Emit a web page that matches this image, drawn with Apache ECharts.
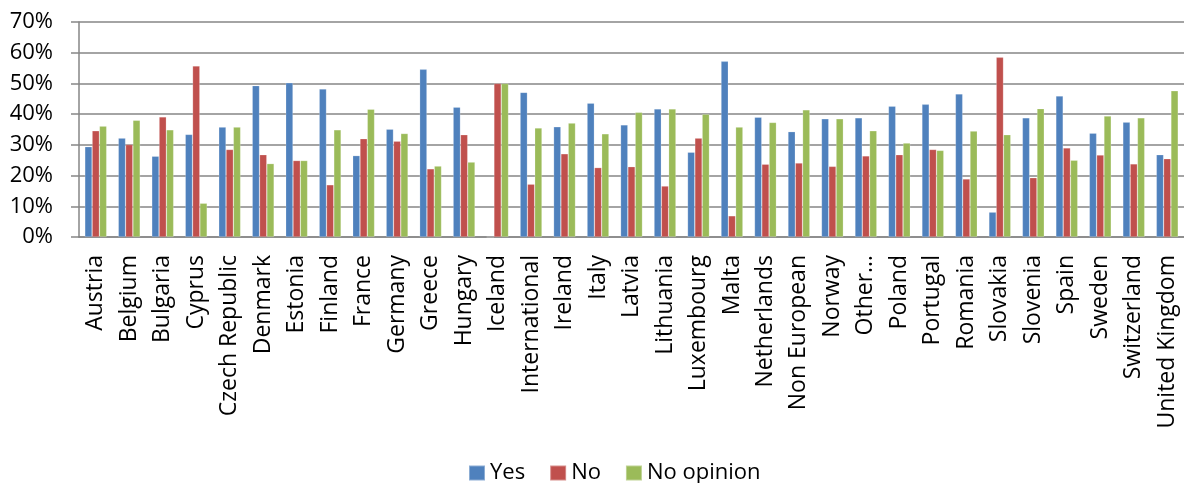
<!DOCTYPE html>
<html>
<head>
<meta charset="utf-8">
<script src="https://cdn.jsdelivr.net/npm/echarts@6/dist/echarts.min.js"></script>
<style>
  html, body { margin: 0; padding: 0; background: #fff; }
  #main { width: 1184px; height: 483px; }
</style>
</head>
<body>
<div id="main"></div>
<script>
// categories (countries)
var countries = ['Austria', 'Belgium', 'Bulgaria', 'Cyprus', 'Czech Republic', 'Denmark', 'Estonia',
  'Finland', 'France', 'Germany', 'Greece', 'Hungary', 'Iceland', 'International', 'Ireland', 'Italy',
  'Latvia', 'Lithuania', 'Luxembourg', 'Malta', 'Netherlands', 'Non European', 'Norway', 'Other…',
  'Poland', 'Portugal', 'Romania', 'Slovakia', 'Slovenia', 'Spain', 'Sweden', 'Switzerland', 'United Kingdom'];

// series values (%)
var yes = [29.4, 32.2, 26.3, 33.4, 35.8, 49.3, 50.2, 48.2, 26.5, 35.1, 54.6, 42.3, 0, 47.1, 35.9, 43.6,
  36.5, 41.7, 27.6, 57.2, 39.0, 34.3, 38.5, 38.8, 42.6, 43.2, 46.6, 8.1, 38.8, 45.9, 33.8, 37.4, 26.8];
var no = [34.6, 30.1, 39.1, 55.7, 28.5, 26.8, 24.9, 17.0, 32.0, 31.2, 22.2, 33.3, 50.0, 17.2, 27.1, 22.6,
  22.9, 16.6, 32.2, 6.9, 23.7, 24.1, 23.0, 26.4, 26.8, 28.5, 18.9, 58.5, 19.3, 29.0, 26.7, 23.8, 25.5];
var noOpinion = [36.1, 38.0, 34.9, 11.0, 35.8, 23.9, 24.9, 34.9, 41.6, 33.7, 23.1, 24.4, 50.0, 35.5, 37.1, 33.6,
  40.6, 41.7, 40.0, 35.8, 37.3, 41.4, 38.5, 34.6, 30.6, 28.2, 34.5, 33.3, 41.8, 25.0, 39.4, 38.8, 47.6];

// y axis ticks
var yMin = 0, yMax = 70, yStep = 10;

var font = 'Open Sans';
var chart = echarts.init(document.getElementById('main'));

function bar(name, data, color) {
  return {
    name: name,
    type: 'bar',
    data: data,
    barWidth: 7.3,
    barGap: '0%',
    itemStyle: { color: color, borderColor: 'rgba(255,255,255,0.35)', borderWidth: 0.6 }
  };
}

chart.setOption({
  animation: false,
  textStyle: { fontFamily: font },
  grid: { left: 79, top: 22, width: 1113, bottom: 246 },
  legend: {
    bottom: -6,
    left: 463,
    itemWidth: 16,
    itemHeight: 15,
    itemGap: 24,
    icon: 'rect',
    textStyle: { fontSize: 22, color: '#000', fontFamily: font },
    data: ['Yes', 'No', 'No opinion']
  },
  xAxis: {
    type: 'category',
    data: countries,
    axisLine: { lineStyle: { color: '#868686', width: 1.5 } },
    axisTick: { length: 6, lineStyle: { color: '#868686', width: 1.5 } },
    axisLabel: { rotate: 90, interval: 0, fontSize: 23, color: '#000', margin: 18 }
  },
  yAxis: {
    type: 'value',
    min: yMin,
    max: yMax,
    interval: yStep,
    axisLine: { show: true, lineStyle: { color: '#868686', width: 1.5 } },
    axisTick: { show: true, length: 8, lineStyle: { color: '#868686', width: 1.5 } },
    splitLine: { lineStyle: { color: '#868686', width: 1.5 } },
    axisLabel: { formatter: '{value}%', fontSize: 22, color: '#000', margin: 26 }
  },
  series: [
    bar('Yes', yes, '#4F81BD'),
    bar('No', no, '#C0504D'),
    bar('No opinion', noOpinion, '#9BBB59')
  ]
});
</script>
</body>
</html>
